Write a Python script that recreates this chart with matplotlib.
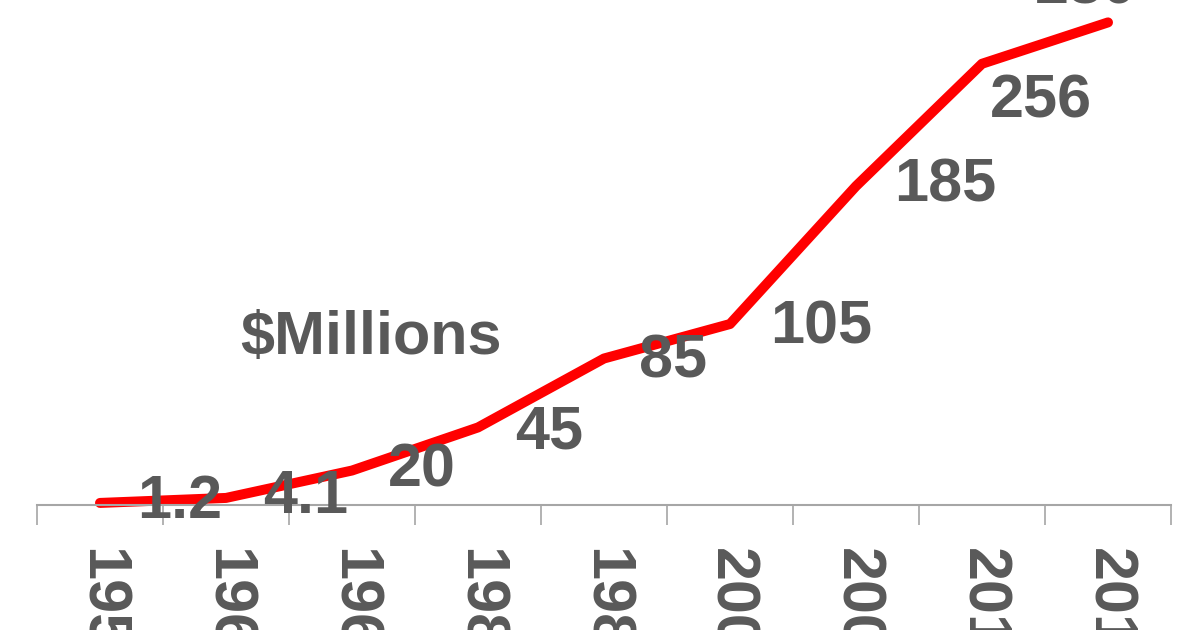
import matplotlib.pyplot as plt
from matplotlib.ticker import FixedLocator

# Data
years = ['1950', '1960', '1965', '1980', '1985', '2000', '2005', '2010', '2015']
values = [1.2, 4.1, 20, 45, 85, 105, 185, 256, 280]
value_labels = ['1.2', '4.1', '20', '45', '85', '105', '185', '256', '280']

# label offsets (pixels) from each point
label_dx = [37, 37, 36, 37, 35, 40, 38, 8, -73]
label_dy = [0, 0, 0, -6, -4, -4, 0, -38, 34]

plt.rcParams['font.family'] = ['Liberation Sans', 'DejaVu Sans']
text_grey = '#595959'
axis_grey = '#A6A6A6'

fig = plt.figure(figsize=(12, 6.3), dpi=100)
ax = fig.add_axes([37 / 1200, 125 / 630, (1171 - 37) / 1200, 505 / 630])

x = list(range(len(years)))
ax.plot(x, values, color='#FF0000', linewidth=7.2, solid_capstyle='round',
        solid_joinstyle='round', clip_on=False)

for xi, v, lab, dx, dy in zip(x, values, value_labels, label_dx, label_dy):
    ax.annotate(lab, (xi, v), xytext=(dx, dy), textcoords='offset pixels',
                ha='left', va='center', fontsize=44, fontweight='bold',
                color=text_grey, annotation_clip=False)

ax.set_xlim(-0.5, len(years) - 0.5)
ax.set_ylim(0, 293)

# axis styling
for side in ['left', 'right', 'top']:
    ax.spines[side].set_visible(False)
ax.spines['bottom'].set_color(axis_grey)
ax.spines['bottom'].set_linewidth(1.5)
ax.set_yticks([])

ax.set_xticks(x)
ax.set_xticklabels(years, rotation=-90, fontsize=44, fontweight='bold',
                   color=text_grey, va='top', ha='center')
ax.tick_params(axis='x', which='major', length=0, pad=31)
ax.xaxis.set_minor_locator(FixedLocator([i - 0.5 for i in range(len(years) + 1)]))
ax.tick_params(axis='x', which='minor', length=14.4, width=1.2, color=axis_grey,
               direction='out')

fig.text(240 / 1200, 1 - 354 / 630, '$Millions', fontsize=44, fontweight='bold',
         color=text_grey, ha='left', va='baseline')

fig.savefig('out.png', dpi=100, facecolor='white')
